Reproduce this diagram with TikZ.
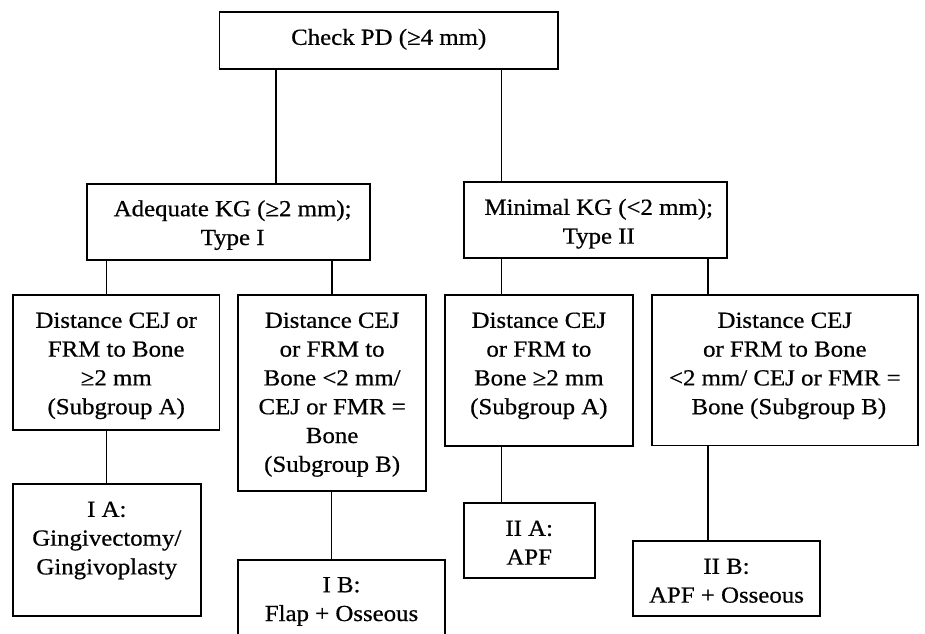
\documentclass[tikz,border=0pt]{standalone}
\usepackage{fontspec}
\setmainfont{Liberation Serif}[FakeStretch=1.08,FakeBold=0.6]
\newcommand{\bt}[3]{\parbox[c][#2pt][t]{#1pt}{\centering\rule{0pt}{32.5pt}#3\par}}
\begin{document}
\begin{tikzpicture}[x=1pt,y=-1pt,
  bx/.style={draw, line width=1.8pt, inner sep=0pt, outer sep=0pt, anchor=north west,
    font=\fontsize{23}{28.8}\selectfont},
  conn/.style={line width=1.4pt}]
\clip (0,0) rectangle (925,633);
\fill[white] (0,0) rectangle (925,633);
\node[bx] (top) at (219.5,12.3) {\bt{338.5}{56.4}{Check PD (≥4 mm)}};
\node[bx] (adq) at (87.3,183.7) {\bt{282.7}{76}{\hspace*{8pt}Adequate KG (≥2 mm);\\\hspace*{8pt}Type I}};
\node[bx] (min) at (463.7,182.3) {\bt{263.1}{75.7}{\hspace*{7pt}Minimal KG (<2 mm);\\\hspace*{7pt}Type II}};
\node[bx] (b1) at (13,295.3) {\bt{206.5}{135}{Distance CEJ or\\FRM to Bone\\≥2 mm\\(Subgroup A)}};
\node[bx] (b2) at (238.3,295.3) {\bt{187.7}{195.7}{Distance CEJ\\or FRM to\\Bone <2 mm/\\CEJ or FMR =\\Bone\\(Subgroup B)}};
\node[bx] (b3) at (444.8,295.3) {\bt{188.2}{150.7}{Distance CEJ\\or FRM to\\Bone ≥2 mm\\(Subgroup A)}};
\node[bx] (b4) at (651.7,295.3) {\bt{266.3}{150.2}{Distance CEJ\\or FRM to Bone\\<2 mm/ CEJ or FMR =\\\hspace*{8pt}Bone (Subgroup B)}};
\node[bx] (ia) at (13,484.3) {\bt{187.6}{131.7}{I A:\\Gingivectomy/\\Gingivoplasty}};
\node[bx] (ib) at (238.3,559.7) {\bt{206.5}{100}{I B:\\Flap + Osseous}};
\node[bx] (iia) at (463.7,503.3) {\bt{131}{75}{II A:\\APF}};
\node[bx] (iib) at (633,541.3) {\bt{187}{74.7}{II B:\\APF + Osseous}};
\coordinate (c1) at ([xshift=56.5pt]top.south west);
\coordinate (c2) at ([xshift=282pt]top.south west);
\coordinate (c3) at ([xshift=93.2pt]b1.north west);
\coordinate (c4) at ([xshift=93.5pt]b2.north west);
\coordinate (c5) at ([xshift=56.7pt]b3.north west);
\coordinate (c6) at ([xshift=56.3pt]b4.north west);
\coordinate (c7) at ([xshift=93.2pt]b1.south west);
\coordinate (c8) at ([xshift=93.3pt]b2.south west);
\coordinate (c9) at ([xshift=56.7pt]b3.south west);
\coordinate (c10) at ([xshift=56.3pt]b4.south west);
\draw[conn] (c1) -- (c1 |- adq.north);
\draw[conn] (c2) -- (c2 |- min.north);
\draw[conn] (c3) -- (c3 |- adq.south);
\draw[conn] (c4) -- (c4 |- adq.south);
\draw[conn] (c5) -- (c5 |- min.south);
\draw[conn] (c6) -- (c6 |- min.south);
\draw[conn] (c7) -- (c7 |- ia.north);
\draw[conn] (c8) -- (c8 |- ib.north);
\draw[conn] (c9) -- (c9 |- iia.north);
\draw[conn] (c10) -- (c10 |- iib.north);
\end{tikzpicture}
\end{document}
